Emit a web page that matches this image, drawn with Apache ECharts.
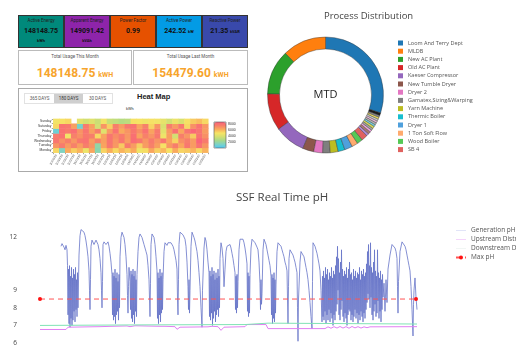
<!DOCTYPE html>
<html>
<head>
<meta charset="utf-8">
<script src="https://cdn.jsdelivr.net/npm/echarts@6/dist/echarts.min.js"></script>
<style>
  body { margin: 0; width: 516px; height: 350px; overflow: hidden; background: #fff; font-family: Roboto, Arial, sans-serif; position: relative; }
  .abs { position: absolute; }
  .tile { position: absolute; top: 15px; height: 33px; box-sizing: border-box; border: 1px solid #333; text-align: center; color: #111; }
  .tile .lbl { position: absolute; left: 0; right: 0; top: 2px; font-size: 4.5px; color: #222; }
  .tile .val { position: absolute; left: 0; right: 0; top: 11px; font-size: 7px; line-height: 8px; font-weight: bold; }
  .tile .val small { font-size: 4px; }
  .tile .unit { position: absolute; left: 0; right: 0; top: 22px; font-size: 4px; font-weight: bold; }
  .card { position: absolute; top: 50px; height: 35px; box-sizing: border-box; border: 1px solid #bbb; text-align: center; }
  .card .ttl { position: absolute; left: 0; right: 0; top: 3px; font-size: 4.5px; color: #555; }
  .card .big { position: absolute; left: 0; right: 0; top: 15px; line-height: 14px; color: #f7a42c; font-weight: bold; font-size: 12px; }
  .card .big span { font-size: 7px; }
  .btns { position: absolute; left: 24px; top: 93px; height: 11px; display: flex; border: 1px solid #e2e2e2; box-sizing: border-box; }
  .btns div { width: 29px; font-size: 4.5px; line-height: 9px; text-align: center; color: #555; }
  .btns .on { background: #cfcfcf; color: #333; }
</style>
</head>
<body>
<div class="tile" style="left:18px;width:46px;background:#00897b"><div class="lbl">Active Energy</div><div class="val">148148.75</div><div class="unit">kWh</div></div>
<div class="tile" style="left:64px;width:46px;background:#8e24aa"><div class="lbl">Apparent Energy</div><div class="val">149091.42</div><div class="unit">kVAh</div></div>
<div class="tile" style="left:110px;width:46px;background:#e65100"><div class="lbl">Power Factor</div><div class="val">0.99</div></div>
<div class="tile" style="left:156px;width:46px;background:#039be5"><div class="lbl">Active Power</div><div class="val">242.52 <small>kW</small></div></div>
<div class="tile" style="left:202px;width:46px;background:#3949ab"><div class="lbl">Reactive Power</div><div class="val">21.35 <small>kVAR</small></div></div>

<div class="card" style="left:18px;width:114px"><div class="ttl">Total Usage This Month</div><div class="big">148148.75 <span>kWH</span></div></div>
<div class="card" style="left:133px;width:115px"><div class="ttl">Total Usage Last Month</div><div class="big">154479.60 <span>kWH</span></div></div>

<div class="abs" style="left:18px;top:88px;width:230px;height:84px;box-sizing:border-box;border:1.5px solid #aaa"></div>
<div class="btns"><div>365 DAYS</div><div class="on">180 DAYS</div><div>30 DAYS</div></div>
<div class="abs" style="left:137px;top:92px;font:bold 7.5px Arial, sans-serif;color:#222">Heat Map</div>
<div class="abs" style="left:126px;top:106px;font-size:4px;color:#333">kWh</div>

<div id="heat" class="abs" style="left:19px;top:106px;width:228px;height:65px"></div>
<div id="pie" class="abs" style="left:255px;top:0;width:261px;height:175px"></div>
<div id="ph" class="abs" style="left:0;top:180px;width:516px;height:170px"></div>

<script>
// heat map: weeks x weekdays
var weeks = ['10/06/19','10/13/19','10/20/19','10/27/19','11/03/19','11/10/19','11/17/19','11/24/19','12/01/19','12/08/19','12/15/19','12/22/19','12/29/19',
  '01/05/20','01/12/20','01/19/20','01/26/20','02/02/20','02/09/20','02/16/20','02/23/20','03/01/20','03/08/20','03/15/20','03/22/20','03/29/20'];
var days = ['Monday','Tuesday','Wednesday','Thursday','Friday','Saturday','Sunday'];
var monday    = [5200,1500,6200,5400,6000,4600,6300,1800,5300,6100,5200,6000,5500,6200,4700,5100,6300,5400,5900,5000,6200,5300,5500,6000,5200,6000];
var tuesday   = [6800,7500,6600,7300,6500,7400,6800,2000,6400,7600,6700,5500,7500,6600,5400,6600,7300,6500,5000,6700,7400,6300,7600,6600,7800,6800];
var wednesday = [7700,6900,7400,6700,7600,7800,6600,7300,6500,7700,6800,7600,6600,8000,7600,6700,7500,6800,7700,6400,5300,6900,7400,6600,8300,7500];
var thursday  = [7500,7800,4800,7300,6900,7600,7400,5200,6400,7700,7000,7500,6700,7900,6400,7300,6800,7600,4700,6500,3800,7400,6700,5500,7800,6900];
var friday    = [1000,7800,7500,7900,6800,7700,6500,7400,4200,6600,7800,6200,6800,7600,6900,7800,6400,7500,4300,6600,7900,6300,7700,8200,7700,6600];
var saturday  = [5200,7800,7600,6500,1200,7500,6500,3800,6800,5400,7400,6600,7600,7800,6400,7300,5300,6800,4000,7400,6600,7600,5200,6900,7800,6700];
var sunday    = [4800,5000,5200,null,4300,3800,4200,3600,4800,3500,3300,3000,3200,5000,4900,4700,5000,4800,4400,3800,4600,4000,5000,5500,5800,5200];
var scaleTicks = [2000, 4000, 6000, 8000];

// process distribution (MTD share, %)
var procNames = ['Loom And Terry Dept','MLDB','New AC Plant','Old AC Plant','Kaeser Compressor','New Tumble Dryer','Dryer 2',
  'Gamatex,Sizing&Warping','Yarn Machine','Thermic Boiler','Dryer 1','1 Ton Soft Flow','Wood Boiler','SB 4',
  'Other 1','Other 2','Other 3','Other 4','Other 5','Other 6','Other 7','Other 8','Other 9','Other 10','Other 11','Other 12'];
var procShare = [30.0,12.2,12.5,10.3,8.6,3.1,2.5,2.1,2.2,1.9,2.2,1.7,1.6,1.7,
  0.7,0.7,0.6,0.6,0.65,0.55,0.6,0.55,0.6,0.55,0.55,0.7];
var procColors = ['#1f77b4','#ff7f0e','#2ca02c','#d62728','#9467bd','#8c564b','#e377c2','#7f7f7f','#bcbd22','#17becf',
  '#4fa0dc','#ffab6e','#55c955','#e0625f','#b18bd6','#a97a6c','#f0a3dd','#a5a5a5','#d7d85a','#7ad6e3',
  '#b5b5b5','#f2bde0','#c9c9c9','#f1e05d','#8a8a8a','#1c1c1c'];

// pH (sample index, value)
var maxPH = 8.5;
var phSpan = [0, 376];
var genPH = [
  [21,11.5],[22,11.65],[23,11.7],[24,11.45],[25,11.3],[26,11.55],[27,11.3],[27.5,10.4],
  [28,7.6],[28.5,10.2],[29,7.1],[29.5,10.4],[30,6.9],[30.5,9.8],[31,7.4],[31.5,10.3],[32,7.0],[32.5,9.7],[33,7.3],[33.5,10.2],[34,7.8],[34.5,9.9],[35,7.2],[35.5,10.3],[36,7.9],[36.5,9.6],[37,7.5],[37.5,10.0],[38,8.0],
  [39,11.0],[40,12.1],[41,12.45],[42,12.5],[43,12.45],[44,12.3],[45,12.1],[46,11.8],[47,11.4],[48,10.9],[49,10.1],[49.5,9.0],[50,7.9],[50.5,9.6],
  [51,11.5],[52,11.85],[53,11.8],[54,11.6],[55,11.65],[56,11.85],[57,11.8],[58,11.6],[59,11.3],[60,10.8],[61,10.0],[61.5,9.0],[62,8.0],[62.5,9.5],
  [63,11.6],[64,11.75],[65,11.65],[66,11.6],[67,11.65],[68,11.75],[69,11.5],[70,11.1],[71,10.6],[72,9.9],
  [72.5,7.6],[73,10.0],[73.5,7.3],[74,9.8],[74.5,7.5],[75,10.2],[75.5,7.1],[76,9.7],[76.5,7.6],[77,10.0],[77.5,7.8],[78,9.5],[78.5,7.3],[79,9.9],[79.5,8.0],
  [80,10.9],[81,12.0],[82,12.3],[83,12.25],[84,12.0],[85,11.6],[86,10.9],[87,9.9],[87.5,8.7],[88,7.7],[88.5,9.2],[89,10.3],[90,9.5],
  [90.5,7.9],[91,10.1],[91.5,7.4],[92,9.9],[92.5,7.2],[93,10.2],[93.5,7.6],[94,9.8],[94.5,7.1],[95,10.1],[95.5,7.8],[96,9.6],[96.5,7.5],[97,9.9],
  [98,11.2],[99,12.0],[100,12.2],[101,12.15],[102,12.0],[103,11.8],[104,11.6],[105,11.4],[106,11.2],[107,11.0],[108,10.4],[109,9.6],[110,7.5],[110.5,9.4],
  [111,11.6],[112,12.2],[113,12.15],[114,12.0],[115,11.6],[116,10.9],[117,10.1],
  [117.5,7.4],[118,10.0],[118.5,7.1],[119,9.7],[119.5,7.6],[120,10.2],[120.5,7.2],[121,9.8],[121.5,7.7],[122,10.0],[122.5,7.9],[123,9.6],
  [124,11.2],[125,11.7],[126,11.6],[127,11.55],[128,11.7],[129,11.8],[130,11.8],[131,11.7],[132,11.6],[133,11.5],[134,11.3],[135,11.0],[136,10.7],[137,10.2],[137.5,8.5],[138,7.6],[138.5,9.6],
  [139,11.6],[140,12.3],[141,12.3],[142,12.25],[143,12.15],[144,12.05],[145,11.9],[146,11.5],[147,10.6],[148,9.2],
  [148.5,7.9],[149,9.6],[149.5,7.7],[150,9.0],
  [151,11.5],[152,12.3],[153,12.25],[154,12.0],[155,11.8],[156,11.5],[157,11.2],[158,10.7],[159,10.0],[160,9.2],[161,8.0],[162,6.9],[162.5,9.0],
  [164,11.4],[165,12.0],[166,11.8],[167,11.3],[168,10.6],[169,10.0],
  [169.5,7.5],[170,10.1],[170.5,7.3],[171,9.8],[171.5,7.7],[172,10.3],[172.5,7.0],[173,9.9],[173.5,7.4],[174,10.1],[174.5,7.8],[175,9.6],[175.5,7.2],[176,10.0],[176.5,7.6],[177,9.7],[177.5,7.9],[178,10.2],[178.5,7.5],[179,9.8],[179.5,8.0],
  [180,10.8],[181,11.7],[182,11.4],[183,10.8],[184,9.2],[185,10.2],[186,11.2],[187,11.5],[188,11.55],[189,11.6],[190,11.6],[191,11.4],[192,11.1],[193,10.8],[194,10.4],[195,10.0],
  [195.5,7.9],[196,9.8],[196.5,7.7],[197,9.9],[197.5,8.0],[198,9.5],
  [199,11.3],[200,11.9],[201,11.85],[202,11.8],[203,11.9],[204,11.7],[205,11.4],[206,11.0],[207,10.5],
  [207.5,7.8],[208,10.0],[208.5,7.5],[209,9.8],[209.5,7.7],[210,9.9],
  [211,11.4],[212,11.9],[213,11.85],[214,11.8],[215,11.7],[216,11.6],[217,11.45],[218,11.3],[219,10.6],[220,9.4],[220.5,7.9],[221,9.6],[221.5,8.2],[222,8.8],
  [223,11.3],[224,11.9],[225,11.85],[226,11.6],[227,11.3],[228,11.0],[229,10.7],[230,10.4],[231,9.8],
  [231.5,7.6],[232,9.9],[232.5,7.1],[233,9.7],[233.5,7.4],[234,10.0],[234.5,7.2],[235,9.6],[235.5,7.7],[236,9.3],
  [237,11.2],[238,11.7],[239,11.7],[240,11.6],[241,11.5],[242,11.3],[243,11.1],[244,10.9],[245,10.6],[246,10.4],[247,10.1],[247.5,8.5],[248,7.1],[248.5,9.2],
  [249,10.8],[250,11.3],[251,11.3],[252,11.2],[253,11.0],[254,10.8],[255,10.6],[256,10.3],[257,10.0],[257.5,8.0],[258,6.1],[258.5,8.5],
  [260,10.6],[261,11.2],[262,11.3],[263,11.1],[264,10.9],[265,10.6],[266,10.3],[267,10.0],[268,9.6],[269,9.0],[270,8.3],[271,7.5],[272,6.8],[272.5,9.5],
  [273,11.7],[274,11.65],[275,11.5],[276,11.3],[277,11.1],[278,10.8],[279,10.5],[280,10.1],[281,9.0],[282,7.2],
  [282.5,9.8],[283,7.5],[283.5,10.1],[284,7.3],[284.5,9.7],[285,7.8],[285.5,10.3],[286,7.1],[286.5,9.9],[287,7.6],[287.5,10.2],[288,7.3],[288.5,9.6],[289,7.9],[289.5,10.0],
  [290,7.2],[290.5,9.8],[291,7.7],[291.5,10.3],[292,7.4],[292.5,9.7],[293,7.0],[293.5,10.1],[294,7.6],[294.5,9.9],[295,7.3],[295.5,10.4],[296,7.8],[296.5,10.9],[297,8.2],[297.5,11.5],
  [298,9.0],[298.5,10.8],[299,7.6],[299.5,10.0],[300,7.3],[300.5,10.6],[301,7.9],[301.5,11.3],[302,8.4],[302.5,10.2],[303,7.5],[303.5,9.8],[304,7.2],[304.5,10.1],[305,7.7],[305.5,9.9],
  [306,7.4],[306.5,10.3],[307,7.0],[307.5,9.7],[308,7.6],[308.5,10.2],[309,7.9],[309.5,10.6],[310,7.8],[310.5,9.9],[311,7.3],[311.5,10.0],[312,7.6],[312.5,9.6],[313,7.2],[313.5,10.2],
  [314,7.5],[314.5,9.8],[315,7.9],[315.5,10.1],[316,7.4],[316.5,9.7],[317,7.7],[317.5,10.0],[318,7.1],[318.5,9.9],[319,7.6],[319.5,10.3],[320,7.3],[320.5,9.6],[321,7.8],[321.5,10.1],
  [322,7.5],[322.5,9.9],[323,7.2],[323.5,10.2],[324,7.7],[324.5,9.8],[325,7.4],[325.5,10.0],[326,7.9],[326.5,10.5],[327,8.3],[327.5,11.2],[328,8.8],[328.5,11.6],[329,8.5],[329.5,10.4],
  [330,8.0],[330.5,11.7],[331,8.6],[331.5,10.3],[332,7.6],[332.5,10.0],[333,7.3],[333.5,10.6],[334,7.8],[334.5,11.3],[335,8.2],[335.5,10.1],[336,7.5],[336.5,9.8],[337,7.7],[337.5,11.3],
  [338,8.4],[338.5,10.0],[339,7.4],[339.5,9.7],[340,7.8],[340.5,10.1],[341,7.2],[341.5,9.6],[342,7.9],[342.5,9.9],[343,8.6],
  [344,9.4],[345,7.8],[346,9.6],[347,8.3],[348,10.2],[350,11.0],[352,11.6],[353,11.7],[354,11.6],[355,11.4],[356,11.2],[357,10.8],[357.5,9.2],[358,7.7],[358.5,9.5],
  [360,11.2],[362,11.75],[363,11.8],[364,11.7],[365,11.5],[366,11.3],[367,11.0],[368,10.7],[369,10.4],[370,10.1],[371,9.2],[372,7.9],[373,6.4],[373.5,8.2],[374,9.0],[375,9.7],[376,8.6],[377,7.9]
];
var upPH = [
  [0,6.77],[26,6.77],[28,6.9],[30,6.93],[60,6.93],[72,6.95],[74,6.93],[87,6.97],[90,6.93],[95,6.98],[97,6.93],[120,6.95],[122,6.99],[125,6.95],
  [135,6.93],[137,6.78],[140,6.9],[168,6.92],[172,6.95],[178,6.93],[181,6.72],[184,6.9],[205,6.93],[207,7.05],[226,7.05],[228,6.82],[285,6.82],
  [288,6.92],[291,6.84],[294,6.93],[297,6.85],[300,6.94],[303,6.85],[306,6.93],[309,6.84],[312,6.94],[315,6.86],[318,6.93],[321,6.85],[324,6.92],[327,6.87],[330,6.92],[377,6.93]
];
var downPH = [[0,7.0],[100,7.03],[205,7.05],[207,7.13],[228,7.13],[230,7.08],[377,7.08]];
var phTicks = [6, 7, 8, 9, 12];

var heatRows = [monday, tuesday, wednesday, thursday, friday, saturday, sunday];
var heatData = [];
heatRows.forEach(function (row, d) {
  row.forEach(function (v, w) { if (v != null) heatData.push([w, d, v]); });
});

var heatChart = echarts.init(document.getElementById('heat'));
heatChart.setOption({
  animation: false,
  grid: [
    { left: 34.3, top: 12.9, width: 155, height: 33.8 },
    { left: 195, top: 16, width: 12, height: 26, show: true, borderColor: '#555', borderWidth: 0.6, backgroundColor: 'transparent', z: 10 }
  ],
  xAxis: [
    { type: 'category', data: weeks, gridIndex: 0, axisLine: { show: false },
      axisTick: { show: true, length: 1.5, lineStyle: { color: '#444', width: 0.5 } },
      axisLabel: { fontSize: 3, color: '#444', rotate: 60, interval: 0, margin: 2 } },
    { type: 'value', gridIndex: 1, show: false }
  ],
  yAxis: [
    { type: 'category', data: days, gridIndex: 0, axisLine: { show: false },
      axisTick: { show: true, length: 1.5, interval: 0, lineStyle: { color: '#444', width: 0.5 } },
      axisLabel: { fontSize: 3.3, color: '#333', margin: 2, interval: 0 } },
    { type: 'value', gridIndex: 1, position: 'right', min: 200, max: 8500,
      axisLine: { show: false }, axisTick: { show: false }, splitLine: { show: false },
      axisLabel: { customValues: scaleTicks, fontSize: 3.5, color: '#333', margin: 2, formatter: function (v) { return String(v); } } }
  ],
  visualMap: {
    type: 'continuous', min: 200, max: 8500, calculable: false, seriesIndex: 0,
    left: 195, top: 16, itemWidth: 12, itemHeight: 26, padding: 0, text: null, showLabel: false,
    inRange: { color: ['#4dc9f6', '#7dd2c4', '#a6d98b', '#d2df72', '#f6e465', '#f9ad5c', '#f7806a', '#fb607b'] }
  },
  series: [{
    type: 'heatmap', data: heatData, xAxisIndex: 0, yAxisIndex: 0,
    itemStyle: { borderWidth: 0 }, emphasis: { disabled: true }
  }]
});

var pieChart = echarts.init(document.getElementById('pie'));
var shareSum = procShare.reduce(function (a, b) { return a + b; }, 0);
pieChart.setOption({
  animation: false,
  color: procColors,
  title: { text: 'Process Distribution', left: 64, top: 6,
    textStyle: { fontSize: 9.5, fontWeight: 'normal', color: '#444', fontFamily: 'Open Sans' } },
  legend: {
    orient: 'vertical', left: 143, top: 40, bottom: 0, padding: 0, icon: 'rect', itemWidth: 5, itemHeight: 5, itemGap: 2.2,
    data: procNames.slice(0, 14),
    itemStyle: { borderWidth: 0 },
    textStyle: { fontSize: 5.5, lineHeight: 6, color: '#555', fontFamily: 'Open Sans' }
  },
  graphic: [{ type: 'text', x: 70.5, y: 95,
    style: { text: 'MTD', fontSize: 11, fill: '#222', fontFamily: 'Open Sans', align: 'center', verticalAlign: 'middle' } }],
  series: [{
    type: 'pie', center: [70.5, 95], radius: [46, 58], clockwise: false,
    startAngle: 90 - 360 * procShare[0] / shareSum,
    label: { show: false }, labelLine: { show: false }, emphasis: { disabled: true },
    itemStyle: { borderColor: '#333', borderWidth: 0.4 },
    data: procNames.map(function (n, i) { return { name: n, value: procShare[i] }; })
  }]
});

var lineIcon = 'path://M0,0H20V1H0Z';
var phChart = echarts.init(document.getElementById('ph'));
phChart.setOption({
  animation: false,
  title: { text: 'SSF Real Time pH', left: 231, top: 7,
    textStyle: { fontSize: 11.5, fontWeight: 'normal', color: '#444', fontFamily: 'Open Sans' } },
  legend: {
    orient: 'vertical', left: 450, top: 42, itemWidth: 10, itemHeight: 5, itemGap: 2,
    textStyle: { fontSize: 6.5, lineHeight: 6.7, color: '#555', fontFamily: 'Open Sans' },
    data: [
      { name: 'Generation pH', icon: lineIcon },
      { name: 'Upstream Distribution pH', icon: lineIcon },
      { name: 'Downstream Distribution pH', icon: lineIcon },
      'Max pH'
    ]
  },
  grid: { left: 40, right: 98, top: 43.4, bottom: 1.7 },
  xAxis: { type: 'value', min: 0, max: 378, show: false },
  yAxis: {
    type: 'value', min: 5.7, max: 12.8,
    axisLine: { show: false }, axisTick: { show: false }, splitLine: { show: false },
    axisLabel: { customValues: phTicks, fontSize: 6.5, color: '#444', margin: 23, fontFamily: 'Open Sans' }
  },
  series: [
    { name: 'Generation pH', type: 'line', data: genPH, symbol: 'none',
      lineStyle: { width: 0.8, color: '#6673c8' }, itemStyle: { color: '#c2c8f0' } },
    { name: 'Upstream Distribution pH', type: 'line', data: upPH, symbol: 'none',
      lineStyle: { width: 1, color: '#e07ff2' }, itemStyle: { color: '#e8a6f6' } },
    { name: 'Downstream Distribution pH', type: 'line', data: downPH, symbol: 'none',
      lineStyle: { width: 1, color: '#7fe3b4' }, itemStyle: { color: '#e2ece8' } },
    { name: 'Max pH', type: 'line', symbol: 'circle', symbolSize: 4, showSymbol: true,
      data: phSpan.map(function (t) { return [t, maxPH]; }),
      lineStyle: { width: 1, color: '#ff5555', type: [5, 4] }, itemStyle: { color: '#ff1111' } }
  ]
});
</script>
</body>
</html>
